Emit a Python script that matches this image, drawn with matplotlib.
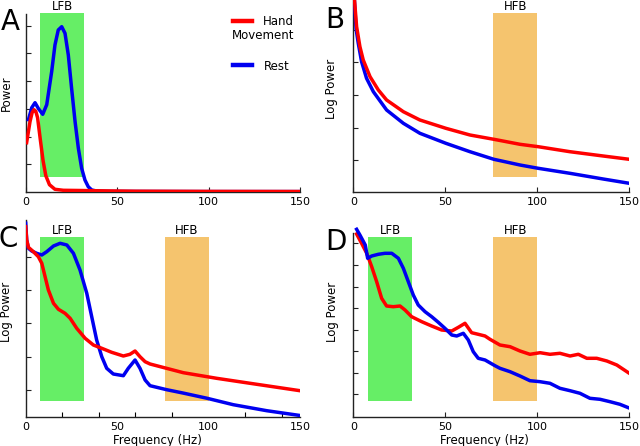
import matplotlib
matplotlib.use('Agg')
import matplotlib.pyplot as plt

plt.rcParams['font.family'] = 'DejaVu Sans'

# colours
RED = '#ff0000'
BLUE = '#0000f0'
GREEN = '#66ee66'
ORANGE = '#f5c46e'

# frequency bands (Hz)
lfb = (8, 32)
hfb = (76, 100)

# ---- panel A: power, linear (a.u.) ----
freq_a_rest = [1.5, 3.3, 5.1, 7.0, 9.3, 11.5, 14.2, 16.0, 17.8, 19.7, 21.5, 23.3,
               25.1, 27.0, 28.8, 30.6, 32.4, 34.2, 36.1, 38.8, 45, 60, 100, 150]
pow_a_rest = [72, 84, 89, 83, 77.4, 87, 120, 146.7, 161.7, 165, 158.4, 136.7,
              103.4, 70, 43.4, 23.4, 11.7, 5, 1.7, 0.7, 0.3, 0.2, 0.1, 0.1]
freq_a_move = [0.5, 2.35, 3.5, 4.5, 5.5, 6.5, 8.0, 9.5, 11.0, 13.0, 16.0, 20.6,
               30, 40, 60, 100, 150]
pow_a_move = [49, 70, 79, 82, 80.5, 74, 52, 31, 16, 7, 2.4, 1.4,
              1.2, 0.9, 0.5, 0.3, 0.2]

# ---- panel B: log power, 1/f model ----
freq_b_move = [0.5, 1.8, 3.6, 5.4, 9.1, 13.6, 18.1, 27.2, 36.2, 50.3, 63.4,
               76.4, 90.6, 100.5, 117.7, 135.8, 150]
pow_b_move = [195, 165, 145, 131.7, 115, 101.7, 91.7, 80, 71.7, 63.4, 56.7,
              52.4, 47.4, 45, 40, 35.7, 32.4]
freq_b_rest = [0.5, 1.5, 2.7, 4.5, 7.2, 10.9, 18.1, 27.2, 36.2, 50.3, 63.4,
               76.4, 90.6, 100.5, 117.7, 135.8, 150]
pow_b_rest = [195, 163, 148.4, 130, 113.4, 100, 81.7, 68.4, 58.4, 48.4, 40,
              32.4, 26.7, 23.4, 18.4, 12.7, 8.4]

# ---- panel C: log power, model spectrum ----
freq_c_rest = [0, 0.55, 1.5, 3.3, 6.0, 8.8, 11.5, 15.2, 18.8, 22.5, 26.1, 29.7,
               33.4, 36.1, 38.8, 41.6, 44.3, 47.9, 53.4, 56.1, 59.8, 62.5, 65.3,
               68.0, 77.1, 86.2, 99, 113.5, 131.8, 150]
pow_c_rest = [193.4, 176.7, 168.4, 165.7, 163.4, 161.7, 165, 170.7, 173.4, 171.7,
              163.4, 146.7, 123.4, 100, 76.7, 60, 48.4, 42.7, 41, 48.4, 56.7,
              48.4, 36.7, 31, 27, 23.6, 18.5, 12, 6, 1.2]
freq_c_move = [0, 0.55, 1.5, 4.2, 6.9, 8.8, 10.6, 12.4, 15.2, 17.9, 21.5, 24.3,
               27.9, 32.5, 37.0, 41.6, 47.0, 53.4, 57.0, 59.8, 62.5, 65.3, 68,
               86.2, 104.4, 122.7, 150]
pow_c_move = [190, 176.7, 169.4, 165, 160, 153.4, 140, 126.7, 113.4, 107.4,
              103.4, 98.4, 88.4, 78.4, 71.7, 68.4, 64.4, 60.7, 62.4, 65.7, 60,
              55, 52.7, 44, 38.4, 33.4, 26]

# ---- panel D: log power, measured spectrum ----
freq_d_rest = [1.8, 3.6, 6.5, 7.8, 10, 13.6, 17.2, 20.9, 24.5, 27.2, 29.9, 32.6,
               35.3, 39, 42.6, 46.2, 49.8, 53.5, 56.2, 59.8, 62.5, 65.2, 67.9,
               71.6, 77, 79.7, 85.2, 90.6, 96, 101.5, 106.9, 112.3, 117.8, 123.2,
               128.6, 134.1, 139.5, 144.9, 149.5]
pow_d_rest = [187.4, 181.7, 171.7, 158.4, 160.7, 162.4, 163.4, 163.4, 158.4,
              148.4, 135, 121.7, 111.7, 105, 100, 94.4, 88.4, 81.7, 80.7, 83.4,
              76.7, 65, 58.4, 56.7, 51, 48.4, 45, 40.7, 36, 35, 33.4, 28.4, 26,
              23.4, 18.4, 17.4, 15, 12.4, 9]
freq_d_move = [1.8, 4.5, 7.3, 10, 12.7, 15.4, 18.1, 21.7, 25.4, 28.1, 31.7, 37.2,
               42.6, 48, 53.5, 57.1, 60.7, 64.3, 67.9, 71.6, 74.3, 79.7, 85.2,
               90.6, 96, 101.5, 106.9, 112.3, 117.8, 122.3, 126.9, 132.3, 137.8,
               143.2, 149.5]
pow_d_move = [182.7, 173.4, 163.4, 150, 135, 118.4, 110.7, 110, 110.7, 106.7,
              100, 95, 90.7, 86.7, 85.7, 89.4, 93.4, 84, 82.4, 80.7, 77.4, 71.7,
              70, 65.7, 62.4, 64, 62.4, 63.4, 60.7, 62.4, 58.4, 58.4, 55.7, 51.7, 44]

W, H = 640, 446
fig = plt.figure(figsize=(W / 100, H / 100), dpi=100)


def px_axes(left, top, right, bottom):
    return fig.add_axes([left / W, 1 - bottom / H, (right - left) / W, (bottom - top) / H])


def style(ax, ytop, yticks, spine_top, ylabel, ylab_xy, xminor=None):
    ax.set_xlim(0, 150)
    ax.set_ylim(0, ytop)
    for s in ['top', 'right']:
        ax.spines[s].set_visible(False)
    for s in ['left', 'bottom']:
        ax.spines[s].set_linewidth(1.0)
        ax.spines[s].set_color('#222222')
    ax.spines['left'].set_bounds(0, spine_top)
    ax.set_xticks([0, 50, 100, 150])
    ax.set_yticks(yticks)
    ax.set_yticklabels([])
    ax.tick_params(direction='in', length=3.5, width=0.8, labelsize=8, pad=3.5, color='#222222')
    if xminor is not None:
        ax.tick_params(axis='x', which='major', length=0)
        ax.set_xticks(xminor, minor=True)
        ax.tick_params(axis='x', which='minor', direction='in', length=3.5, width=0.8)
    ax.set_ylabel(ylabel, fontsize=8.5)
    ax.yaxis.set_label_coords(*ylab_xy)
    ax.patch.set_alpha(0)


def band(ax, lo, hi, color, name, y0, y1, ytxt):
    ax.axvspan(lo, hi, ymin=y0, ymax=y1, color=color, lw=0, zorder=1)
    ax.text((lo + hi) / 2, ytxt, name, ha='center', va='center', fontsize=8.5, clip_on=False)


lw = 2.5

# A
ax_a = px_axes(25.7, 0, 300, 191.7)
style(ax_a, 191.7, [27.4, 55, 82.7, 110.7, 138.3, 166], 178, 'Power', (-0.046, 0.515))
band(ax_a, *lfb, GREEN, 'LFB', 15 / 191.7, 178.4 / 191.7, 185)
ax_a.plot(freq_a_rest, pow_a_rest, color=BLUE, lw=lw, zorder=3, solid_joinstyle='round')
ax_a.plot(freq_a_move, pow_a_move, color=RED, lw=lw, zorder=4, solid_joinstyle='round')
# legend drawn by hand
ax_a.plot([0.757, 0.824], [0.889, 0.889], transform=ax_a.transAxes, color=RED, lw=3.2, clip_on=False)
ax_a.text(0.866, 0.890, 'Hand', transform=ax_a.transAxes, ha='left', va='center', fontsize=8.5)
ax_a.text(0.978, 0.817, 'Movement', transform=ax_a.transAxes, ha='right', va='center', fontsize=8.5)
ax_a.plot([0.757, 0.824], [0.6625, 0.6625], transform=ax_a.transAxes, color=BLUE, lw=3.2, clip_on=False)
ax_a.text(0.870, 0.652, 'Rest', transform=ax_a.transAxes, ha='left', va='center', fontsize=8.5)

# B
ax_b = px_axes(353.3, 0, 629.3, 191.7)
style(ax_b, 191.7, [31.7, 64, 96.7, 129.4, 161.7], 191.7, 'Log Power', (-0.057, 0.536))
band(ax_b, *hfb, ORANGE, 'HFB', 15 / 191.7, 178.4 / 191.7, 185)
ax_b.plot(freq_b_rest, pow_b_rest, color=BLUE, lw=lw, zorder=3)
ax_b.plot(freq_b_move, pow_b_move, color=RED, lw=lw, zorder=4)

# C
ax_c = px_axes(25.7, 220, 300, 416.7)
style(ax_c, 196.7, [26.7, 60, 93.4, 126.7, 160], 196.7, 'Log Power', (-0.048, 0.532),
      xminor=[20, 40, 60, 80, 100, 120, 140])
band(ax_c, *lfb, GREEN, 'LFB', 15.7 / 196.7, 180 / 196.7, 186.7)
band(ax_c, *hfb, ORANGE, 'HFB', 15.7 / 196.7, 180 / 196.7, 186.7)
ax_c.plot(freq_c_rest, pow_c_rest, color=BLUE, lw=lw, zorder=3, solid_joinstyle='round')
ax_c.plot(freq_c_move, pow_c_move, color=RED, lw=lw, zorder=4, solid_joinstyle='round')
ax_c.set_xlabel('Frequency (Hz)', fontsize=8.5)
ax_c.xaxis.set_label_coords(0.48, -0.088)

# D
ax_d = px_axes(353.3, 220, 629.3, 416.7)
style(ax_d, 196.7, [22.7, 44, 65.7, 86.7, 108.4, 130, 151.7, 173.4], 184, 'Log Power', (-0.051, 0.534))
band(ax_d, *lfb, GREEN, 'LFB', 15.7 / 196.7, 180 / 196.7, 186)
band(ax_d, *hfb, ORANGE, 'HFB', 15.7 / 196.7, 180 / 196.7, 186)
ax_d.plot(freq_d_move, pow_d_move, color=RED, lw=lw, zorder=3, solid_joinstyle='round')
ax_d.plot(freq_d_rest, pow_d_rest, color=BLUE, lw=lw, zorder=4, solid_joinstyle='round')
ax_d.set_xlabel('Frequency (Hz)', fontsize=8.5)
ax_d.xaxis.set_label_coords(0.475, -0.088)

# panel letters
for lab, x, yb in [('A', 0.5, 30), ('B', 325.5, 28), ('C', -1, 247), ('D', 325.5, 250)]:
    fig.text(x / W, 1 - yb / H, lab, fontsize=20, ha='left', va='baseline')

fig.savefig('out.png', dpi=100)
